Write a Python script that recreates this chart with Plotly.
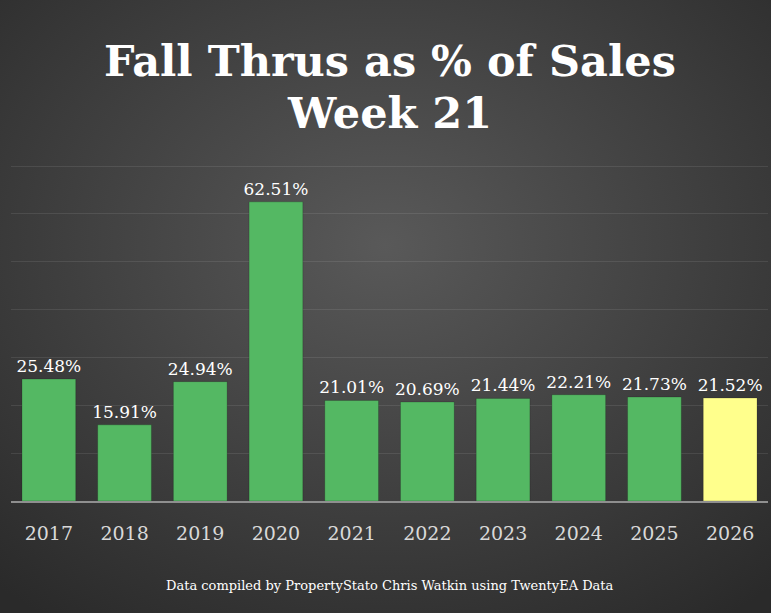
import base64
import plotly.graph_objects as go

years = ["2017", "2018", "2019", "2020", "2021", "2022", "2023", "2024", "2025", "2026"]
values = [25.48, 15.91, 24.94, 62.51, 21.01, 20.69, 21.44, 22.21, 21.73, 21.52]
labels = ["25.48%", "15.91%", "24.94%", "62.51%", "21.01%", "20.69%", "21.44%", "22.21%", "21.73%", "21.52%"]
colors = ["#54b863"] * 9 + ["#ffff8c"]
title_lines = ["Fall Thrus as % of Sales", "Week 21"]

W, H = 771, 613
ML, MR, MT, MB = 11, 3, 161, 112
PW, PH = W - ML - MR, H - MT - MB

svg = f'''<svg xmlns="http://www.w3.org/2000/svg" width="{W}" height="{H}" viewBox="0 0 {W} {H}" preserveAspectRatio="none">
<defs><radialGradient id="g" cx="0.5" cy="0.4" r="0.75">
<stop offset="0" stop-color="#595959"/><stop offset="1" stop-color="#2a2a2a"/>
</radialGradient></defs>
<rect width="{W}" height="{H}" fill="url(#g)"/></svg>'''
bg = "data:image/svg+xml;base64," + base64.b64encode(svg.encode()).decode()

fig = go.Figure(go.Bar(
    x=years, y=values, text=labels, textposition="outside",
    constraintext="none",
    marker=dict(color=colors, line=dict(color="rgba(0,0,0,0.18)", width=1)),
    textfont=dict(family="DejaVu Serif", size=17, color="white"),
    cliponaxis=False,
))

def py(px):
    return 1 - (px - MT) / PH

annotations = [
    dict(text=f"<b>{title_lines[0]}</b>", x=0.5, y=py(61)),
    dict(text=f"<b>{title_lines[1]}</b>", x=0.5, y=py(113)),
]
for a in annotations:
    a.update(xref="paper", yref="paper", xanchor="center", yanchor="middle",
             showarrow=False, font=dict(family="DejaVu Serif", size=43, color="white"))
annotations.append(dict(text="Data compiled by PropertyStato Chris Watkin using TwentyEA Data",
                        xref="paper", yref="paper", x=0.5, y=py(585),
                        xanchor="center", yanchor="middle", showarrow=False,
                        font=dict(family="DejaVu Serif", size=13, color="white")))

fig.update_layout(
    width=W, height=H,
    margin=dict(l=ML, r=MR, t=MT, b=MB),
    paper_bgcolor="#404040", plot_bgcolor="rgba(0,0,0,0)",
    bargap=0.29, showlegend=False,
    images=[dict(source=bg, xref="paper", yref="paper",
                 x=-ML / PW, y=1 + MT / PH, sizex=W / PW, sizey=H / PH,
                 xanchor="left", yanchor="top", sizing="stretch", layer="below")],
    annotations=annotations,
)
fig.update_xaxes(showline=True, linecolor="#8f8f8f", linewidth=2,
                 ticks="outside", ticklen=14, tickcolor="rgba(0,0,0,0)",
                 tickfont=dict(family="DejaVu Serif", size=19, color="#d9d9d9"),
                 showgrid=False)
fig.update_yaxes(range=[0, 71.05], tickvals=[10, 20, 30, 40, 50, 60, 70], showticklabels=False,
                 gridcolor="rgba(255,255,255,0.09)", gridwidth=1,
                 zeroline=False)

fig.write_html("out.html", config={"displayModeBar": False},
               post_script="document.body.style.margin='0';document.body.style.overflow='hidden';")
